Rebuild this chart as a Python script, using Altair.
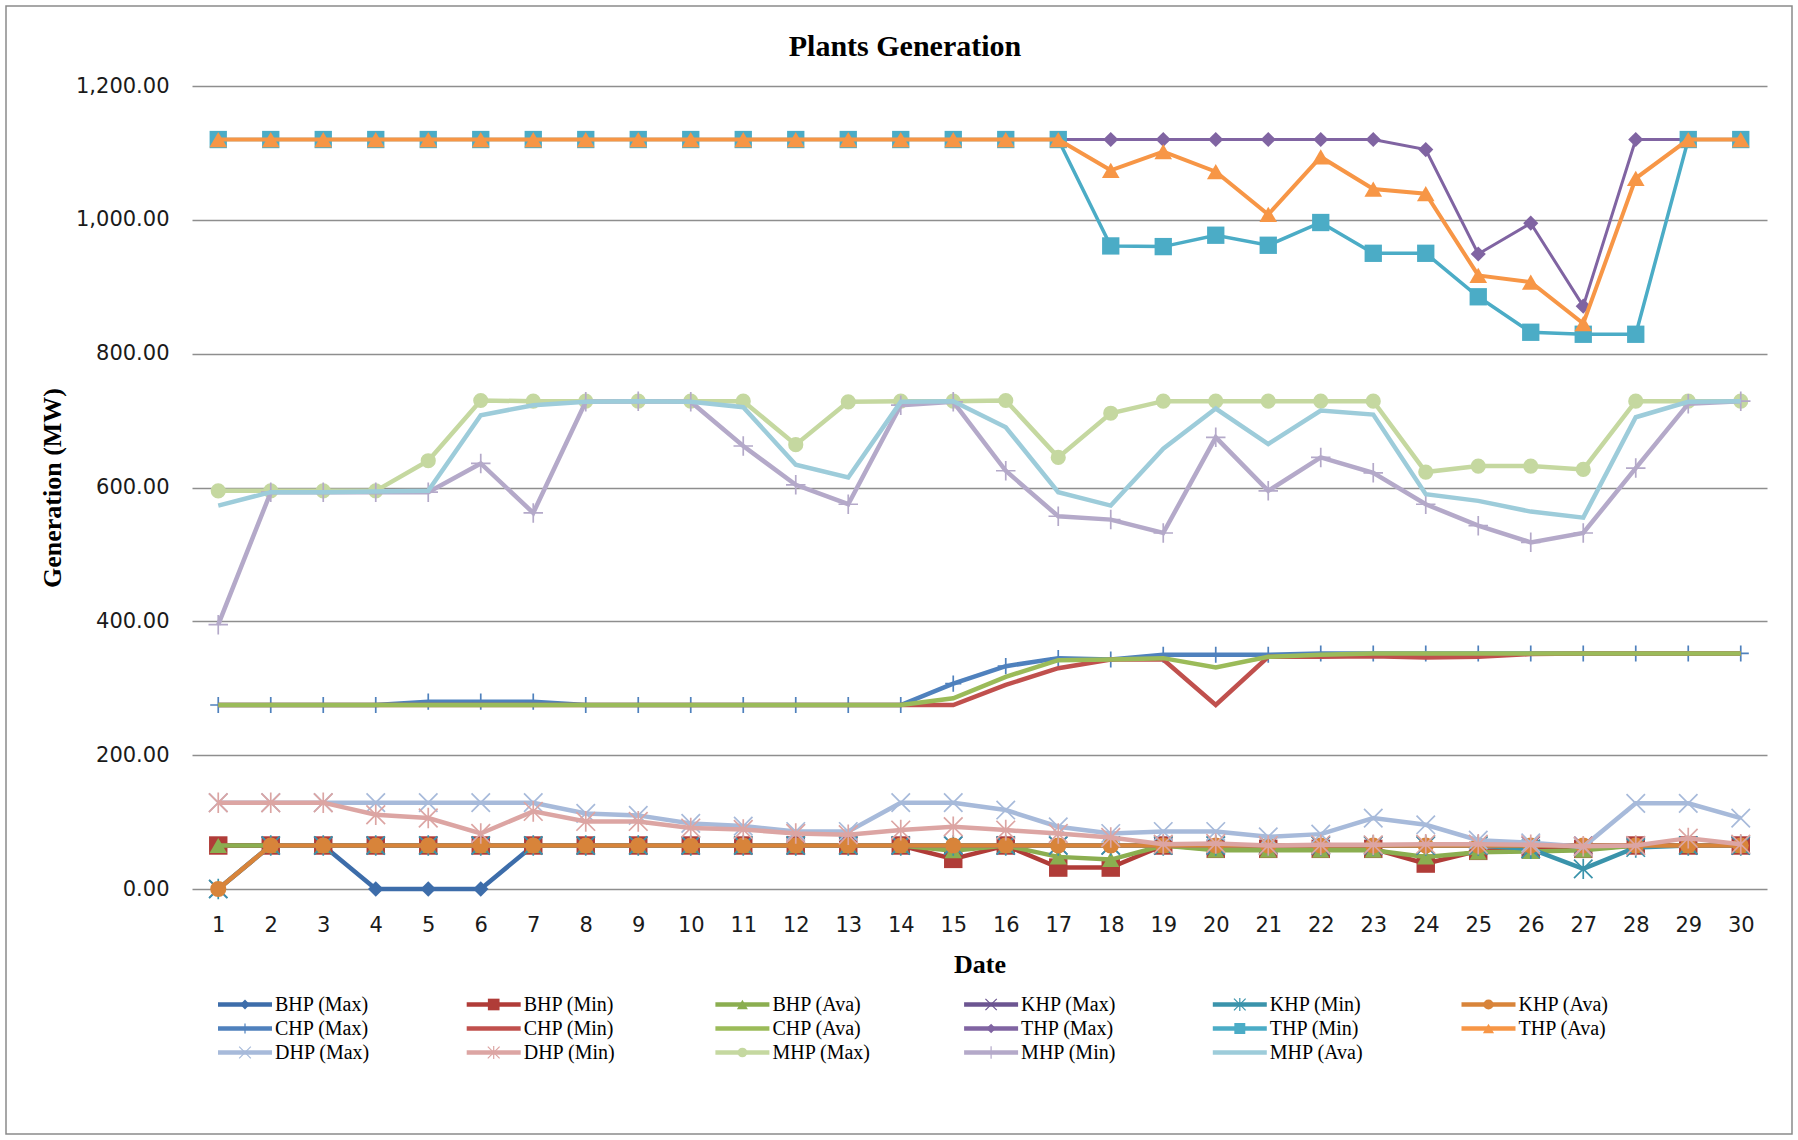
import altair as alt
import pandas as pd

# ---- data -------------------------------------------------------------
DAYS = list(range(1, 31))

BHP_MAX = [65, 65, 65, 0, 0, 0] + [65] * 24
BHP_MIN = [65] * 14 + [45, 65, 32, 32, 65, 60, 60, 60, 60, 38, 57, 59, 60, 65, 65, 65]
BHP_AVA = [65] * 14 + [57, 65, 48, 44, 65, 58, 58, 58, 58, 48, 55, 56, 58, 65, 65, 65]
KHP_MAX = [0] + [65] * 29
KHP_MIN = [0] + [65] * 24 + [60, 30, 62, 65, 65]
KHP_AVA = [0] + [65] * 29

CHP_MAX = [275, 275, 275, 275, 280, 280, 280, 275, 275, 275, 275, 275, 275, 275,
           307, 333, 345, 343, 350, 350, 350, 352, 352, 352, 352, 352, 352, 352, 352, 352]
CHP_MIN = [275] * 14 + [275, 305, 330, 343, 343, 275, 347, 347, 348, 346, 347, 351, 352, 352, 352, 352]
CHP_AVA = [275] * 14 + [285, 317, 342, 343, 345, 331, 347, 350, 352, 352, 352, 352, 352, 352, 352, 352]

THP_MAX = [1120] * 23 + [1105, 949, 995, 871, 1120, 1120, 1120]
THP_MIN = [1120] * 17 + [961, 960, 977, 962, 996, 950, 950, 885, 832, 829, 829, 1120, 1120]
THP_AVA = [1120] * 17 + [1074, 1102, 1072, 1008, 1094, 1046, 1039, 917, 907, 845, 1062, 1120, 1120]

DHP_MAX = [129, 129, 129, 129, 129, 129, 129, 113, 110, 98, 94, 86, 86, 129, 129,
           118, 93, 83, 86, 86, 78, 82, 106, 96, 73, 69, 63, 128, 128, 106]
DHP_MIN = [129, 129, 129, 111, 106, 83, 116, 101, 101, 91, 89, 83, 81, 88, 93,
           88, 83, 77, 67, 68, 65, 66, 66, 67, 67, 66, 64, 65, 76, 67]

MHP_MAX = [595, 595, 595, 595, 640, 730, 729, 729, 729, 729, 729, 664, 728, 729, 729,
           730, 645, 711, 729, 729, 729, 729, 729, 623, 632, 632, 627, 729, 729, 729]
MHP_MIN = [395, 593, 593, 593, 593, 636, 562, 728, 729, 728, 662, 604, 575, 723, 728,
           625, 557, 552, 532, 675, 595, 645, 622, 575, 543, 518, 532, 629, 725, 729]
MHP_AVA = [573, 593, 593, 594, 595, 708, 723, 728, 729, 728, 720, 634, 615, 728, 729,
           690, 593, 573, 658, 718, 665, 715, 709, 590, 580, 564, 555, 705, 728, 729]

SERIES = [
    "BHP (Max)", "BHP (Min)", "BHP (Ava)", "KHP (Max)", "KHP (Min)", "KHP (Ava)",
    "CHP (Max)", "CHP (Min)", "CHP (Ava)", "THP (Max)", "THP (Min)", "THP (Ava)",
    "DHP (Max)", "DHP (Min)", "MHP (Max)", "MHP (Min)", "MHP (Ava)",
]
VALUES = [
    BHP_MAX, BHP_MIN, BHP_AVA, KHP_MAX, KHP_MIN, KHP_AVA,
    CHP_MAX, CHP_MIN, CHP_AVA, THP_MAX, THP_MIN, THP_AVA,
    DHP_MAX, DHP_MIN, MHP_MAX, MHP_MIN, MHP_AVA,
]
TITLE = "Plants Generation"

# ---- styles -----------------------------------------------------------
COLORS = {
    "BHP (Max)": "#3D6DAA", "BHP (Min)": "#B03C38", "BHP (Ava)": "#8BAE50",
    "KHP (Max)": "#6C5591", "KHP (Min)": "#3A93AB", "KHP (Ava)": "#D8843A",
    "CHP (Max)": "#4F81BD", "CHP (Min)": "#C0504D", "CHP (Ava)": "#9BBB59",
    "THP (Max)": "#8064A2", "THP (Min)": "#4BACC6", "THP (Ava)": "#F79646",
    "DHP (Max)": "#A7BADA", "DHP (Min)": "#DCA5A3", "MHP (Max)": "#C5D8A0",
    "MHP (Min)": "#B4A9C9", "MHP (Ava)": "#9DCCDA",
}

X_PATH = "M-1,-1L1,1M1,-1L-1,1"
PLUS_PATH = "M-1,0L1,0M0,-1L0,1"
STAR_PATH = "M-1,-1L1,1M1,-1L-1,1M0,-1.1L0,1.1"

# shape, filled, size (main plot)
MARKERS = {
    "BHP (Max)": ("diamond", True, 240),
    "BHP (Min)": ("square", True, 340),
    "BHP (Ava)": ("triangle-up", True, 300),
    "KHP (Max)": (X_PATH, False, 320),
    "KHP (Min)": (STAR_PATH, False, 340),
    "KHP (Ava)": ("circle", True, 260),
    "CHP (Max)": (PLUS_PATH, False, 260),
    "CHP (Min)": None,
    "CHP (Ava)": None,
    "THP (Max)": ("diamond", True, 230),
    "THP (Min)": ("square", True, 300),
    "THP (Ava)": ("triangle-up", True, 310),
    "DHP (Max)": (X_PATH, False, 340),
    "DHP (Min)": (STAR_PATH, False, 350),
    "MHP (Max)": ("circle", True, 230),
    "MHP (Min)": (PLUS_PATH, False, 380),
    "MHP (Ava)": None,
}
LINE_W = {name: 4.5 for name in SERIES}
LINE_W["THP (Max)"] = 3
LINE_W["THP (Min)"] = 3.5
LINE_W["THP (Ava)"] = 4

rows = []
for name, vals in zip(SERIES, VALUES):
    for d, v in zip(DAYS, vals):
        rows.append({"series": name, "day": d, "value": v})
df = pd.DataFrame(rows)

PAGE_W, PAGE_H = 1798, 1140
PAD_L, PAD_T = 192, 86
PLOT_W, PLOT_H = 1575, 803
SANS = "DejaVu Sans"
SERIF = "Liberation Serif"

X = alt.X(
    "day:Q",
    scale=alt.Scale(domain=[0.5, 30.5], nice=False, zero=False),
    axis=alt.Axis(
        values=DAYS, format="d", title="Date", grid=False, domain=False, ticks=False,
        tickSize=0, labelPadding=25, labelBaseline="top", labelFont=SANS, labelFontSize=21,
        labelColor="#1a1a1a", titleFont=SERIF, titleFontSize=26, titleFontWeight="bold",
        titleColor="black", titleY=75, titleBaseline="middle",
    ),
)
Y = alt.Y(
    "value:Q",
    scale=alt.Scale(domain=[0, 1200], nice=False),
    axis=alt.Axis(
        values=[0, 200, 400, 600, 800, 1000, 1200], format=",.2f",
        title="Generation (MW)", grid=True, gridColor="#8E8E8E", gridWidth=1.4,
        domain=False, ticks=False, tickSize=0, labelPadding=23, labelFont=SANS,
        labelFontSize=21, labelColor="#1a1a1a", titleFont=SERIF, titleFontSize=26,
        titleFontWeight="bold", titleColor="black", titleAngle=-90, titleX=-140,
        titleY=PLOT_H / 2, titleAlign="center", titleBaseline="middle",
    ),
)

layers = []
for name in SERIES:
    base = alt.Chart(df).transform_filter(alt.datum.series == name)
    layers.append(
        base.mark_line(color=COLORS[name], strokeWidth=LINE_W[name]).encode(x=X, y=Y)
    )
    mk = MARKERS[name]
    if mk:
        shape, filled, size = mk
        layers.append(
            base.mark_point(
                shape=shape, filled=filled, size=size, color=COLORS[name],
                strokeWidth=1.7, opacity=1,
            ).encode(x=X, y=Y)
        )
main = alt.layer(*layers)

# ---- legend block below the plot ---------------------------------------
LEG_COLS = 6
leg_df = pd.DataFrame({
    "series": SERIES,
    "col": [i % LEG_COLS for i in range(len(SERIES))],
    "row": [i // LEG_COLS for i in range(len(SERIES))],
})
LEG_PITCH = 248.7
LEG_ROW0 = 1004.5 - PAD_T   # first legend row, plot-local pixels
LEG_ROW_STEP = 24
LX = alt.X("col:Q", scale=alt.Scale(domain=[0, LEG_COLS], range=[0, LEG_COLS * LEG_PITCH],
                                    nice=False, zero=False), axis=None)
LY = alt.Y("row:Q", scale=alt.Scale(domain=[0, 2], range=[LEG_ROW0, LEG_ROW0 + 2 * LEG_ROW_STEP],
                                    nice=False, zero=False), axis=None)

leg_layers = []
for name in SERIES:
    base = alt.Chart(leg_df).transform_filter(alt.datum.series == name)
    leg_layers.append(
        base.mark_rule(color=COLORS[name], strokeWidth=4.5, xOffset=26, x2Offset=80)
        .encode(x=LX, x2="col:Q", y=LY)
    )
    mk = MARKERS[name]
    if mk:
        shape, filled, size = mk
        leg_layers.append(
            base.mark_point(
                shape=shape, filled=filled, size=size * 0.4, color=COLORS[name],
                strokeWidth=1.2, opacity=1, xOffset=53,
            ).encode(x=LX, y=LY)
        )
leg_layers.append(
    alt.Chart(leg_df).mark_text(
        align="left", baseline="middle", font=SERIF, fontSize=20, color="black", xOffset=83,
    ).encode(x=LX, y=LY, text="series:N")
)

# chart title and outer frame
deco = alt.Chart(pd.DataFrame({"title": [TITLE]}))
leg_layers.append(
    deco.mark_text(font=SERIF, fontSize=30, fontWeight="bold", color="black",
                   align="center", baseline="middle").encode(
        text="title:N", x=alt.value(905 - PAD_L), y=alt.value(47 - PAD_T)
    )
)
leg_layers.append(
    deco.mark_rect(fillOpacity=0, stroke="#8a8a8a", strokeWidth=1.5).encode(
        x=alt.value(6 - PAD_L), x2=alt.value(PAGE_W - 6 - PAD_L),
        y=alt.value(6 - PAD_T), y2=alt.value(PAGE_H - 6 - PAD_T),
    )
)
legend = alt.layer(*leg_layers)

chart = alt.layer(main, legend).resolve_scale(x="independent", y="independent").properties(
    width=PLOT_W,
    height=PLOT_H,
    autosize=alt.AutoSizeParams(type="none"),
    padding={"left": PAD_L, "top": PAD_T, "right": PAGE_W - PAD_L - PLOT_W,
             "bottom": PAGE_H - PAD_T - PLOT_H},
    background="white",
).configure_view(stroke=None)

chart.save("out.html", embed_options={"renderer": "svg", "actions": False})
